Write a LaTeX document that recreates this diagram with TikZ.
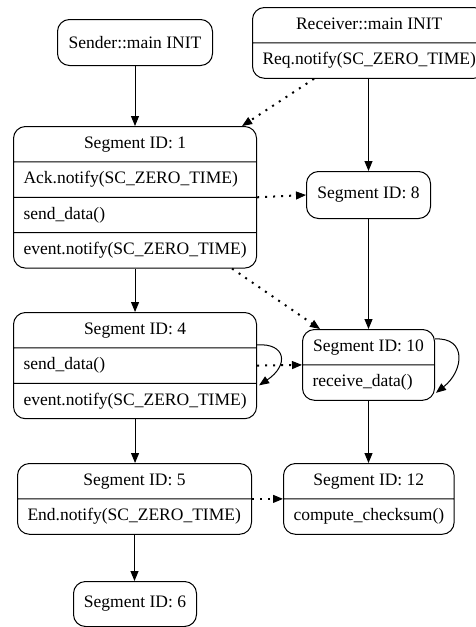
\documentclass[tikz,border=0pt]{standalone}
\usepackage{fontspec}
\setmainfont{Liberation Serif}
\usetikzlibrary{arrows.meta, shapes.multipart}
\tikzset{
  rec/.style = {
    rectangle split, draw=black, rounded corners=12pt, line width=1pt,
    rectangle split part align={center,left,left,left},
    inner xsep=10pt, inner ysep=6.7pt, anchor=north west,
    font=\fontsize{17.5}{21}\selectfont
  },
  seg/.style = {
    rectangle, draw=black, rounded corners=12pt, line width=1pt,
    inner xsep=10pt, anchor=north west,
    font=\fontsize{17.5}{21}\selectfont
  },
  arr/.style  = {-{Triangle[length=10pt, width=8pt]}, line width=1pt},
  darr/.style = {-{Triangle[length=10pt, width=8pt, line width=1pt]},
                 line width=2pt, dash pattern=on 2pt off 6pt}
}

\begin{document}
\begin{tikzpicture}[x=1pt, y=-1pt]
\useasboundingbox (0,0) rectangle (475,627);

% init segments
\node[seg, minimum width=155pt, minimum height=46pt] (sender) at (57,19)
      {Sender::main INIT};
\node[rec, rectangle split parts=2, minimum width=222pt] (recv) at (252,7)
      {\strut Receiver::main INIT\nodepart{two}\strut Req.notify(SC\_ZERO\_TIME)};

% sender side
\node[rec, rectangle split parts=4, minimum width=243pt] (seg1) at (13,126)
      {\strut Segment ID: 1
       \nodepart{two}\strut Ack.notify(SC\_ZERO\_TIME)
       \nodepart{three}\strut send\_data()
       \nodepart{four}\strut event.notify(SC\_ZERO\_TIME)};
\node[rec, rectangle split parts=3, minimum width=243pt] (seg4) at (13,312)
      {\strut Segment ID: 4
       \nodepart{two}\strut send\_data()
       \nodepart{three}\strut event.notify(SC\_ZERO\_TIME)};
\node[rec, rectangle split parts=2, minimum width=234pt] (seg5) at (17,463)
      {\strut Segment ID: 5\nodepart{two}\strut End.notify(SC\_ZERO\_TIME)};
\node[seg, minimum width=123pt, minimum height=45pt] (seg6) at (73,581)
      {Segment ID: 6};

% receiver side
\node[seg, minimum width=124pt, minimum height=47pt] (seg8) at (306,171)
      {Segment ID: 8};
\node[rec, rectangle split parts=2, minimum width=132pt] (seg10) at (302,329)
      {\strut Segment ID: 10\nodepart{two}\strut receive\_data()};
\node[rec, rectangle split parts=2, minimum width=170pt] (seg12) at (283,463)
      {\strut Segment ID: 12\nodepart{two}\strut compute\_checksum()};

% control flow
\foreach \a/\b in {sender/seg1, seg1/seg4, seg4/seg5, seg5/seg6, seg8/seg10, seg10/seg12}
  \draw[arr] (\a.south) -- (\a.south |- \b.north);
\draw[arr] (recv.south -| seg8.north) -- (seg8.north);
\draw[arr] ([shift={(0,-3)}]seg4.text split east)
           .. controls +(29,-2) and +(30,-20) .. ([shift={(2,2)}]seg4.two split east);
\draw[arr] ([shift={(0,10)}]seg10.north east)
           .. controls +(32,-2) and +(28,-22) .. ([shift={(1,-8)}]seg10.south east);

% notifications
\draw[darr] ([shift={(62,0)}]recv.south west) -- ([shift={(-15,0)}]seg1.north east);
\draw[darr] (seg1.two split east) -- (seg8.west);
\draw[darr] ([shift={(-25,0)}]seg1.south east) -- ([shift={(18,0)}]seg10.north west);
\draw[darr] (seg4.east) -- (seg10.west);
\draw[darr] (seg5.text split east) -- (seg12.text split west);

\end{tikzpicture}
\end{document}
